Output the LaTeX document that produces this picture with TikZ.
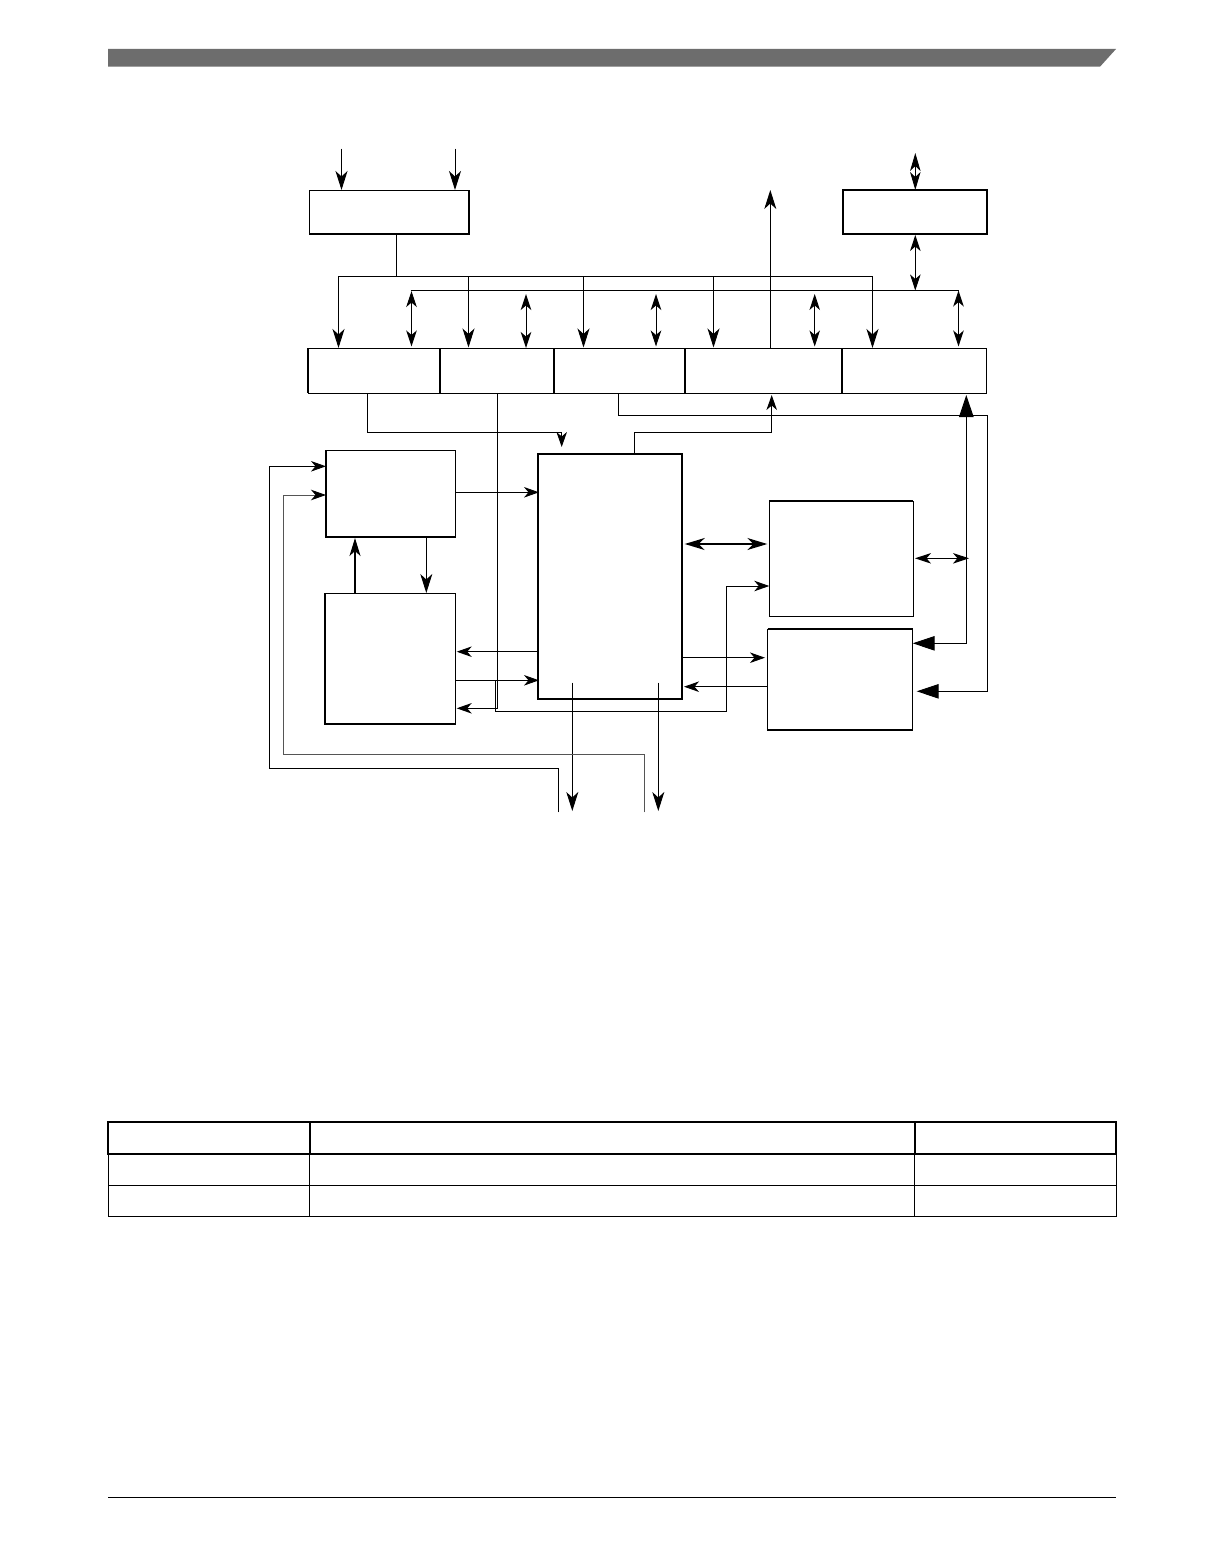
\documentclass[tikz,border=0pt]{standalone}
\usetikzlibrary{arrows.meta}
\definecolor{headgray}{HTML}{6D6D6D}
\definecolor{wiregray}{HTML}{555555}
\tikzset{
  x=1pt,y=-1pt,
  wire/.style={line width=0.95pt,draw=black},
  grayline/.style={line width=0.95pt,draw=wiregray},
  heavy/.style={line width=1.7pt,draw=black},
  blockbox/.style={draw=black,line width=1pt,fill=none,inner sep=0pt,outer sep=0pt,rectangle},
  sm/.style={-{Stealth[length=15pt,width=10.5pt,inset=4.5pt,color=black]}},
  med/.style={-{Stealth[length=19pt,width=12pt,inset=5.5pt]}},
  dbl/.style={{Stealth[length=16pt,width=10.5pt,inset=4.5pt]}-{Stealth[length=16pt,width=10.5pt,inset=4.5pt]}},
  big/.style={-{Triangle[length=22pt,width=14.5pt]}},
}
\newcommand{\blk}[6][]{%
  \pgfmathsetmacro{\bw}{#5-#3}\pgfmathsetmacro{\bh}{#6-#4}%
  \pgfmathsetmacro{\bx}{(#3+#5)/2}\pgfmathsetmacro{\by}{(#4+#6)/2}%
  \node[blockbox,minimum width=\bw pt,minimum height=\bh pt,#1] (#2) at (\bx,\by) {};}
\begin{document}
\begin{tikzpicture}
\useasboundingbox (0,0) rectangle (1224,1555);
\fill[white] (0,0) rectangle (1224,1555);
% page furniture
\fill[headgray] (108,49) -- (1116,49) -- (1100,66.7) -- (108,66.7) -- cycle;
\draw[line width=0.9pt] (108,1497.5) -- (1116,1497.5);
% table
\draw[line width=1pt] (108.3,1153.7) -- (108.3,1216.3) -- (1116,1216.3) -- (1116,1153.7);
\draw[line width=1pt] (108.3,1185.3) -- (1116,1185.3);
\draw[line width=1pt] (309.7,1153.7) -- (309.7,1216.3);
\draw[line width=1pt] (914.6,1153.7) -- (914.6,1216.3);
\draw[line width=1.8pt] (108.3,1122) rectangle (1116,1153.7);
\draw[line width=1.8pt] (309.7,1122) -- (309.7,1153.7);
\draw[line width=1.8pt] (914.6,1122) -- (914.6,1153.7);
% blocks
\blk{top}{309.5}{190}{469}{234}
\blk{right}{842.7}{190}{987.3}{234}
\blk{ra}{308}{348}{440}{393}
\blk{rb}{440}{348}{554}{393}
\blk{rc}{554}{348}{685}{393}
\blk{rd}{685}{348}{842}{393}
\blk{re}{842}{348}{986.7}{393}
\blk{bxa}{326}{450.3}{455.3}{537}
\blk{bxb}{325}{593.3}{455.3}{724}
\blk{main}{538}{454}{682.3}{698.7}
\blk{bxc}{769.3}{501}{913.3}{616.3}
\blk{bxd}{767.7}{629}{912.3}{730}
% heavier sides of the blocks
\draw[heavy] (top.north east) -- (top.south east) -- (top.south west);
\draw[heavy] (right.north west) -- (right.south west) -- (right.south east) -- (right.north east) -- cycle;
\draw[line width=1.6pt] (ra.north west) -- (ra.south west);
\draw[heavy] (ra.north east) -- (ra.south east);
\draw[heavy] (rb.north east) -- (rb.south east);
\draw[heavy] (rc.north east) -- (rc.south east);
\draw[heavy] (rd.north east) -- (rd.south east);
\draw[line width=1.5pt] (bxa.north west) -- (bxa.south west) -- (bxa.south east);
\draw[line width=1.5pt] (bxb.north west) -- (bxb.south west) -- (bxb.south east);
\draw[line width=1.7pt] (main.north west) rectangle (main.south east);
\draw[line width=1.5pt] (bxc.north west) -- (bxc.north east);
\draw[line width=1.5pt] (bxd.north west) -- (bxd.north east) -- (bxd.south east) -- (bxd.south west);
% free ends and junctions
\coordinate (inL) at (341.5,148.5);
\coordinate (inR) at (455,148.5);
\coordinate (extT) at (915.3,153);
\coordinate (upT) at (770.3,190);
\coordinate (busA) at (396.5,276);
\coordinate (busL) at (338.5,276);
\coordinate (busR) at (872.5,276);
\coordinate (dataL) at (410.5,290.5);
\coordinate (dataR) at (958.5,290.5);
\coordinate (dataJ) at (915.3,290.5);
% top inputs
\draw[wire,med] (inL) -- (inL |- top.north);
\draw[wire,med] (inR) -- (inR |- top.north);
\draw[wire,{Stealth[length=18pt,width=10.5pt,inset=5pt]}-{Stealth[length=18pt,width=10.5pt,inset=5pt]}] (extT) -- (extT |- right.north);
\draw[wire,dbl] (extT |- right.south) ++(0,1) -- (dataJ);
% clock bus
\draw[wire] (busA |- top.south) -- (busA);
\draw[wire] (busL) -- (busR);
\draw[wire,med] (busL) -- (busL |- ra.north);
\draw[wire,med] (468.5,276) -- (468.5,347.5);
\draw[wire,med] (583.5,276) -- (583.5,347.5);
\draw[wire,med] (713.5,276) -- (713.5,347.5);
\draw[wire,med] (busR) -- (busR |- re.north);
% data bus
\draw[wire] (dataL) -- (dataR);
\draw[wire,dbl] (411.5,291) -- (411.5,346.5);
\draw[wire,dbl] (526,294) -- (526,348);
\draw[wire,dbl] (656,294) -- (656,346.5);
\draw[wire,dbl] (814.7,294) -- (814.7,346.5);
\draw[wire,dbl] (dataR) -- (958.5,346.5);
\draw[wire,med] (upT |- rd.north) -- (upT);
% below the register row
\draw[wire,sm] (367.3,393) -- (367.3,432.3) -- (561.7,432.3) -- (561.7,447);
\draw[wire,sm] (497.3,393) -- (497.3,708.3) -- (456.7,708.3);
\draw[wire,sm] (495.7,680.3) -- (495.7,711.3) -- (726.7,711.3) -- (726.7,586) -- (bxc.west |- 0,586);
\draw[wire,big] (618.3,393) -- (618.3,415.3) -- (987.3,415.3) -- (987.3,691.3) -- (916.7,691.3);
\draw[wire,sm] (634.3,454) -- (634.3,432.3) -- (771.7,432.3) -- (771.7,395);
\draw[wire,big] (966.3,420) -- (966.3,395);
\draw[wire,big] (966.3,415) -- (966.3,643.3) -- (912.7,643.3);
% central connectors
\draw[line width=1.5pt,-{Stealth[length=18pt,width=11pt,inset=5pt]}] (355,593.3) -- (355,538);
\draw[wire,med] (426.3,537) -- (426.3,593);
\draw[wire,sm] (455.3,492.3) -- (539,492.3);
\draw[wire,sm] (main.west |- 0,651.7) -- (456.7,651.7);
\draw[wire,sm] (455.3,680.3) -- (539,680.3);
\draw[line width=1.5pt,{Stealth[length=20pt,width=12pt,inset=6pt]}-{Stealth[length=20pt,width=12pt,inset=6pt]}] (684.7,544) -- (767.3,544);
\draw[wire,dbl] (915,558.3) -- (969,558.3);
\draw[wire,sm] (682.3,657.7) -- (765,657.7);
\draw[wire,sm] (bxd.west |- 0,686.7) -- (684,686.7);
% outputs at the bottom
\draw[wire,med] (572.3,682.7) -- (572.3,811);
\draw[wire,med] (658.3,682.7) -- (658.3,811);
% feedback lines
\draw[wire,sm] (558.3,812.3) -- (558.3,768.3) -- (269.3,768.3) -- (269.3,466.3) -- (bxa.west |- 0,466.3);
\draw[grayline,sm] (644.3,812.3) -- (644.3,754.3) -- (283.7,754.3) -- (283.7,495) -- (bxa.west |- 0,495);
\end{tikzpicture}
\end{document}
